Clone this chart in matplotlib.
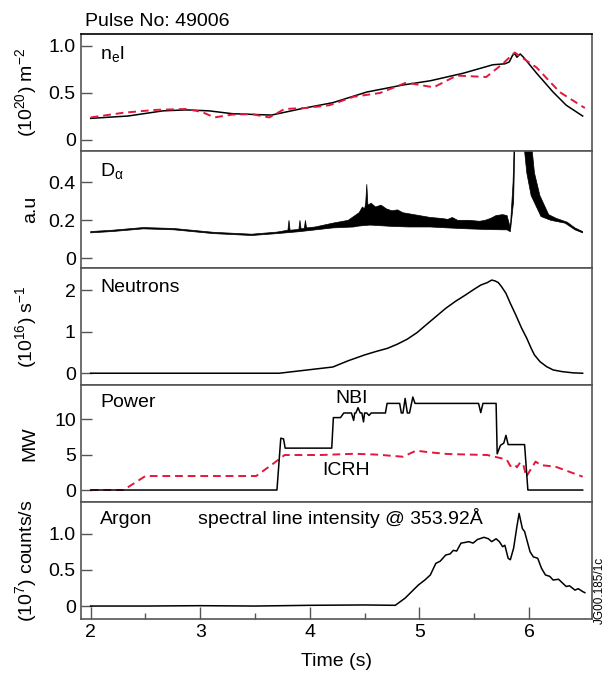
import matplotlib
matplotlib.use('Agg')
import matplotlib.pyplot as plt
from matplotlib.ticker import FixedLocator

plt.rcParams['font.family'] = ['Liberation Sans', 'DejaVu Sans']
plt.rcParams['mathtext.fontset'] = 'custom'
plt.rcParams['mathtext.rm'] = 'Liberation Sans'
plt.rcParams['mathtext.it'] = 'Liberation Sans:italic'
plt.rcParams['mathtext.sf'] = 'Liberation Sans'

# ---------------- data ----------------
ne_t_black = [2.00, 2.34, 2.66, 2.87, 3.08, 3.29, 3.65, 3.94, 4.21, 4.52, 4.85, 5.10, 5.40,
              5.67, 5.78, 5.82, 5.85, 5.87, 5.89, 5.92, 5.95, 6.07, 6.22, 6.34, 6.49]
ne_black = [0.23, 0.255, 0.31, 0.32, 0.31, 0.28, 0.265, 0.337, 0.397, 0.51, 0.585, 0.63, 0.71,
            0.80, 0.81, 0.83, 0.90, 0.92, 0.88, 0.915, 0.88, 0.71, 0.51, 0.37, 0.255]
ne_t_red = [2.00, 2.30, 2.59, 2.87, 3.01, 3.13, 3.29, 3.47, 3.63, 3.77, 3.96, 4.18, 4.40, 4.64,
            4.88, 5.13, 5.34, 5.61, 5.75, 5.87, 6.07, 6.28, 6.51]
ne_red = [0.24, 0.29, 0.32, 0.33, 0.30, 0.24, 0.27, 0.275, 0.24, 0.33, 0.34, 0.37, 0.46, 0.50,
          0.61, 0.56, 0.685, 0.67, 0.80, 0.93, 0.77, 0.51, 0.34]

# D-alpha: lower and upper envelope of the noisy trace
da_t_lo = [2.00, 2.20, 2.48, 2.76, 3.12, 3.47, 3.70, 3.90, 4.21, 4.40, 4.45, 4.55, 4.75, 4.90,
           5.10, 5.26, 5.45, 5.60, 5.76, 5.80, 5.83, 5.86, 5.875, 5.93, 5.96, 5.98, 6.02, 6.11,
           6.20, 6.33, 6.42, 6.49]
da_lo = [0.134, 0.141, 0.155, 0.150, 0.130, 0.120, 0.130, 0.140, 0.160, 0.165, 0.170, 0.175,
         0.168, 0.165, 0.165, 0.160, 0.155, 0.152, 0.150, 0.150, 0.140, 0.30, 0.70, 0.70, 0.565,
         0.45, 0.33, 0.22, 0.20, 0.185, 0.15, 0.134]
da_t_hi = [2.00, 2.20, 2.48, 2.76, 3.12, 3.47, 3.70, 3.80, 3.81, 3.82, 3.90, 3.91, 3.92, 3.95,
           3.96, 3.97, 4.05, 4.21, 4.35, 4.45, 4.48, 4.50, 4.51, 4.52, 4.53, 4.56, 4.60, 4.65,
           4.70, 4.75, 4.80, 4.85, 4.90, 5.00, 5.10, 5.20, 5.26, 5.30, 5.35, 5.45, 5.55, 5.60,
           5.65, 5.70, 5.76, 5.80, 5.83, 5.855, 5.87, 5.93, 6.03, 6.05, 6.10, 6.18, 6.25, 6.35,
           6.42, 6.49]
da_hi = [0.141, 0.148, 0.162, 0.157, 0.137, 0.127, 0.138, 0.148, 0.20, 0.148, 0.152, 0.20,
         0.155, 0.158, 0.20, 0.160, 0.165, 0.185, 0.20, 0.24, 0.27, 0.26, 0.29, 0.39, 0.28, 0.29,
         0.27, 0.28, 0.26, 0.25, 0.255, 0.24, 0.235, 0.225, 0.215, 0.21, 0.205, 0.215, 0.20,
         0.20, 0.195, 0.20, 0.21, 0.225, 0.23, 0.225, 0.16, 0.40, 0.70, 0.70, 0.565, 0.45, 0.33,
         0.23, 0.21, 0.19, 0.16, 0.141]

neut_t = [2.00, 3.72, 4.21, 4.35, 4.50, 4.60, 4.71, 4.80, 4.89, 4.98, 5.06, 5.15, 5.24, 5.33,
          5.42, 5.50, 5.56, 5.62, 5.66, 5.69, 5.72, 5.75, 5.79, 5.83, 5.88, 5.93, 5.98, 6.02,
          6.05, 6.10, 6.16, 6.22, 6.30, 6.40, 6.49]
neut = [0.0, 0.0, 0.15, 0.30, 0.44, 0.52, 0.60, 0.70, 0.82, 0.98, 1.16, 1.36, 1.56, 1.73,
        1.88, 2.02, 2.12, 2.18, 2.24, 2.22, 2.18, 2.08, 1.92, 1.68, 1.40, 1.10, 0.84, 0.60,
        0.44, 0.28, 0.16, 0.08, 0.04, 0.01, 0.0]

nbi_t = [2.0, 3.70, 3.735, 3.76, 3.775, 4.20, 4.215, 4.28, 4.31, 4.38, 4.40, 4.41, 4.42, 4.44,
         4.46, 4.475, 4.49, 4.50, 4.52, 4.54, 4.56, 4.69, 4.705, 4.82, 4.835, 4.85, 4.87, 4.89,
         4.91, 4.94, 4.96, 4.98, 5.54, 5.56, 5.58, 5.70, 5.71, 5.74, 5.77, 5.79, 5.81, 5.96,
         5.99, 6.49]
nbi = [0, 0, 7.3, 7.2, 5.9, 5.9, 10.2, 10.2, 10.85, 10.85, 9.8, 10.85, 10.85, 11.6, 10.85,
       10.85, 9.6, 10.85, 10.85, 10.5, 10.85, 10.85, 12.2, 12.2, 10.85, 10.85, 12.9, 10.85,
       10.85, 13.1, 12.2, 12.2, 12.2, 10.9, 12.2, 12.2, 5.1, 6.3, 6.6, 7.7, 6.4, 6.4, 0, 0]
icrh_t = [2.0, 2.30, 2.50, 3.51, 3.67, 3.77, 4.10, 4.40, 4.60, 4.85, 4.97, 5.10, 5.26, 5.62,
          5.75, 5.80, 5.83, 5.87, 5.89, 5.92, 5.95, 5.975, 6.00, 6.06, 6.11, 6.24, 6.49]
icrh = [0, 0, 1.97, 1.97, 3.76, 4.93, 4.93, 5.1, 5.0, 4.69, 5.54, 5.3, 5.07, 4.93, 4.46, 4.2,
        3.38, 3.6, 3.2, 3.9, 3.5, 1.88, 2.5, 4.0, 3.5, 3.3, 1.88]

argon_t = [2.0, 2.5, 3.0, 3.5, 4.0, 4.5, 4.78, 4.87, 4.99, 5.05, 5.10, 5.15, 5.19, 5.24, 5.28,
           5.31, 5.34, 5.38, 5.42, 5.45, 5.49, 5.53, 5.59, 5.63, 5.66, 5.70, 5.73, 5.76, 5.78,
           5.81, 5.83, 5.86, 5.89, 5.91, 5.94, 5.96, 6.01, 6.04, 6.08, 6.115, 6.15, 6.19, 6.22,
           6.27, 6.34, 6.37, 6.42, 6.45, 6.49, 6.51]
argon = [0.0, 0.0, 0.005, 0.0, 0.01, 0.015, 0.01, 0.11, 0.29, 0.36, 0.43, 0.59, 0.62, 0.705,
         0.72, 0.77, 0.76, 0.87, 0.88, 0.89, 0.87, 0.92, 0.95, 0.93, 0.89, 0.93, 0.89, 0.82,
         0.84, 0.66, 0.64, 0.80, 1.10, 1.28, 1.07, 1.03, 0.75, 0.68, 0.66, 0.52, 0.43, 0.41,
         0.36, 0.37, 0.27, 0.28, 0.22, 0.24, 0.20, 0.185]

x_ticks = [2, 3, 4, 5, 6]
x_minor = [2.5, 3.5, 4.5, 5.5]
y_ticks = [[0, 0.5, 1.0], [0, 0.2, 0.4], [0, 1, 2], [0, 5, 10], [0, 0.5, 1.0]]
y_ticklabels = [['0', '0.5', '1.0'], ['0', '0.2', '0.4'], ['0', '1', '2'], ['0', '5', '10'],
                ['0', '0.5', '1.0']]
y_labels = [r'(10$^{20}$) m$^{-2}$', 'a.u', r'(10$^{16}$) s$^{-1}$', 'MW',
            r'(10$^{7}$) counts/s']
y_lims = [(-0.117, 1.124), (-0.051, 0.565), (-0.29, 2.53), (-1.73, 14.75), (-0.175, 1.434)]

RED = '#e3173c'
SPINE = '#555555'
W, H = 608, 673

fig = plt.figure(figsize=(W / 100, H / 100), dpi=100)
L, R = 80.7 / W, 592.3 / W
edges = [34.3, 151, 268, 385.3, 502.3, 618.7]
axes = []
for i in range(5):
    y0 = 1 - edges[i + 1] / H
    h = (edges[i + 1] - edges[i]) / H
    ax = fig.add_axes([L, y0, R - L, h])
    ax.set_xlim(1.909, 6.578)
    ax.set_ylim(*y_lims[i])
    ax.set_yticks(y_ticks[i])
    ax.set_yticklabels(y_ticklabels[i])
    ax.tick_params(axis='y', direction='in', length=8, width=1.0, color=SPINE,
                   labelsize=14, pad=3.5)
    for s in ax.spines.values():
        s.set_color(SPINE)
        s.set_linewidth(1.2)
    if i == 0:
        ax.spines['top'].set_color('black')
    ax.set_ylabel(y_labels[i], fontsize=14)
    ax.yaxis.set_label_coords(-0.082, 0.5)
    if i < 4:
        ax.set_xticks([])
    axes.append(ax)

ax1, ax2, ax3, ax4, ax5 = axes
ax1.plot(ne_t_black, ne_black, color='black', lw=1.1)
ax1.plot(ne_t_red, ne_red, color=RED, lw=1.4, dashes=(4, 2.5))

poly_x = list(da_t_hi) + list(reversed(da_t_lo))
poly_y = list(da_hi) + list(reversed(da_lo))
ax2.fill(poly_x, poly_y, color='black', lw=0.5)

ax3.plot(neut_t, neut, color='black', lw=1.1)

ax4.plot(icrh_t, icrh, color=RED, lw=1.4, dashes=(4, 2.5))
ax4.plot(nbi_t, nbi, color='black', lw=1.1)

ax5.plot(argon_t, argon, color='black', lw=1.1)
ax5.set_xticks(x_ticks)
ax5.xaxis.set_minor_locator(FixedLocator(x_minor))
ax5.tick_params(axis='x', which='major', direction='in', length=8.5, width=1.0, color=SPINE,
                labelsize=14, pad=3.5)
ax5.tick_params(axis='x', which='minor', direction='in', length=4.5, width=1.0, color=SPINE)


def ptext(x, y, s, **kw):
    fig.text(x / W, 1 - y / H, s, fontsize=14, va='baseline', **kw)


ptext(85, 26, 'Pulse No: 49006')
ptext(100, 59.5, r'n$_\mathrm{e}$l')
ptext(100, 176, r'D$_\mathrm{\alpha}$')
ptext(100, 291.7, 'Neutrons')
ptext(100, 407.3, 'Power')
ptext(335, 403.3, 'NBI')
ptext(322, 475, 'ICRH')
ptext(100, 524, 'Argon')
ptext(197.7, 524, 'spectral line intensity @ 353.92Å')
fig.text(336.5 / W, 1 - 661 / H, 'Time (s)', fontsize=14, ha='center', va='center')
fig.text(600 / W, 1 - 590 / H, 'JG00.185/1c', fontsize=8.5, rotation=90,
         ha='center', va='center')

fig.savefig('out.png', dpi=100)
